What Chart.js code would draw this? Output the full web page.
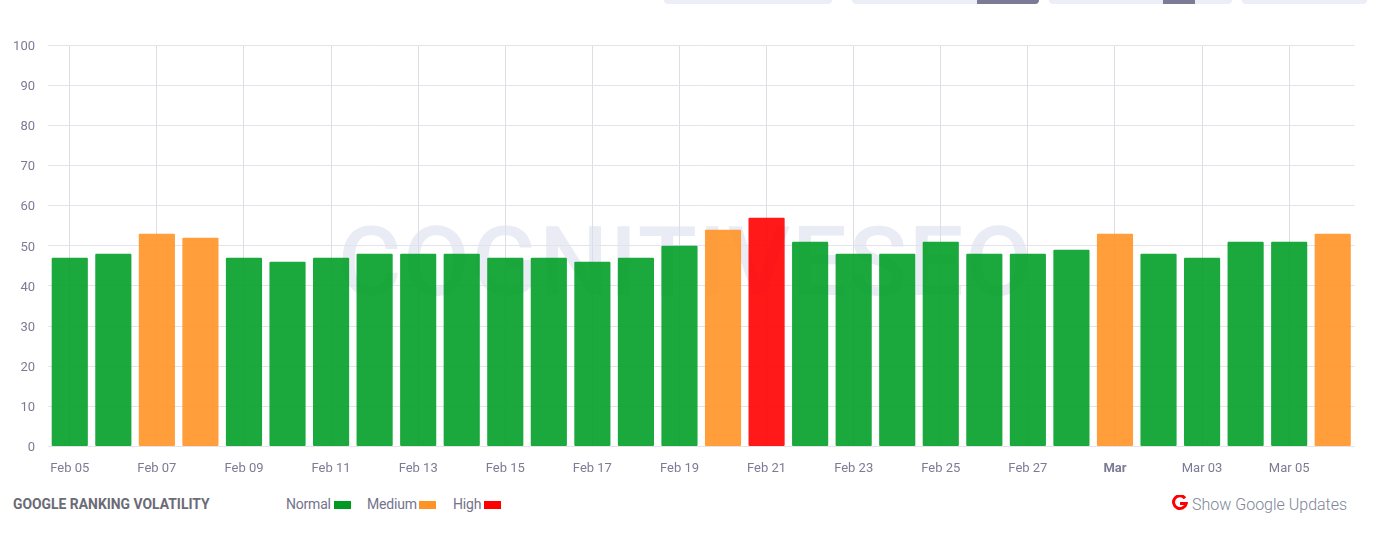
<!DOCTYPE html>
<html>
<head>
<meta charset="utf-8">
<title>Google Ranking Volatility</title>
<script src="https://cdn.jsdelivr.net/npm/chart.js@4"></script>
<style>
    html, body { margin: 0; padding: 0; background: #fff; }
    body { width: 1381px; height: 538px; position: relative; overflow: hidden; font-family: Roboto, sans-serif; }
    #chart-wrap { position: absolute; left: 0; top: 0; width: 1381px; height: 490px; }
    .watermark { position: absolute; left: 338px; top: 205px; font: 500 97px Roboto, sans-serif; color: #e9ecf5; white-space: nowrap; letter-spacing: 1.7px; }
    .pill { position: absolute; top: -4px; height: 8px; background: #eceef6; border-radius: 4px; overflow: hidden; }
    .pill span { position: absolute; top: 0; height: 8px; background: #7c7b96; }
    .title { position: absolute; left: 13px; top: 496px; font-size: 13.9px; font-weight: 700; color: #6b6b76; }
    .legend-label { position: absolute; top: 496px; font-size: 14px; color: #73738c; letter-spacing: -0.2px; }
    .swatch { position: absolute; top: 501px; width: 17px; height: 8px; }
    .updates { position: absolute; left: 1192px; top: 495px; font-size: 16px; font-weight: 300; color: #7e8596; }
    .g-icon { position: absolute; left: 1172px; top: 495px; }
</style>
</head>
<body>
<div class="pill" style="left:664px;width:168px"></div>
<div class="pill" style="left:852px;width:187px"><span style="left:125px;width:62px"></span></div>
<div class="pill" style="left:1049px;width:183px"><span style="left:114px;width:32px"></span></div>
<div class="pill" style="left:1242px;width:125px"></div>

<div class="watermark">COGNITIVESEO</div>
<div id="chart-wrap"><canvas id="volatilityChart"></canvas></div>

<div class="title">GOOGLE RANKING VOLATILITY</div>
<div class="legend-label" style="left:286px">Normal</div>
<div class="swatch" style="left:334px;background:#009a22"></div>
<div class="legend-label" style="left:367px">Medium</div>
<div class="swatch" style="left:419px;background:#ff9326"></div>
<div class="legend-label" style="left:453px">High</div>
<div class="swatch" style="left:484px;background:#ff0000"></div>
<svg class="g-icon" width="16" height="16" viewBox="0 0 16 16">
    <path d="M13 3.2A6.4 6.4 0 1 0 14.2 8.6H8" fill="none" stroke="#f00" stroke-width="3"/>
</svg>
<div class="updates">Show Google Updates</div>

<script>
const days = ["Feb 05", "Feb 06", "Feb 07", "Feb 08", "Feb 09", "Feb 10", "Feb 11", "Feb 12", "Feb 13", "Feb 14",
    "Feb 15", "Feb 16", "Feb 17", "Feb 18", "Feb 19", "Feb 20", "Feb 21", "Feb 22", "Feb 23", "Feb 24",
    "Feb 25", "Feb 26", "Feb 27", "Feb 28", "Mar", "Mar 02", "Mar 03", "Mar 04", "Mar 05", "Mar 06"];
const volatility = [47, 48, 53, 52, 47, 46, 47, 48, 48, 48,
    47, 47, 46, 47, 50, 54, 57, 51, 48, 48,
    51, 48, 48, 49, 53, 48, 47, 51, 51, 53];
const yTicks = [0, 10, 20, 30, 40, 50, 60, 70, 80, 90, 100];

function barColor(value) {
    if (value >= 55) return "rgba(255, 0, 0, 0.9)";
    if (value >= 52) return "rgba(255, 147, 38, 0.9)";
    return "rgba(2, 160, 40, 0.9)";
}

const gridColor = "#e3e3e9";
const tickColor = "#7c7b96";

new Chart(document.getElementById("volatilityChart"), {
    type: "bar",
    data: {
        labels: days,
        datasets: [{
            data: volatility,
            backgroundColor: volatility.map(barColor),
            borderRadius: 1,
            borderSkipped: false,
            categoryPercentage: 1,
            barPercentage: 0.83,
        }],
    },
    options: {
        responsive: true,
        maintainAspectRatio: false,
        animation: false,
        layout: { padding: { top: 45, right: 26.5, left: 0, bottom: 0 } },
        plugins: { legend: { display: false }, tooltip: { enabled: false } },
        scales: {
            x: {
                offset: true,
                border: { display: false },
                grid: {
                    offset: false,
                    drawTicks: false,
                    color: (ctx) => (ctx.index % 2 === 0 ? "#dddde4" : "transparent"),
                },
                ticks: {
                    autoSkip: false,
                    maxRotation: 0,
                    padding: 14,
                    color: tickColor,
                    font: (ctx) => ({
                        family: "Roboto",
                        size: 13,
                        weight: days[ctx.index] === "Mar" ? "bold" : "normal",
                    }),
                    callback: (value, index) => (index % 2 === 0 ? days[index] : ""),
                },
                afterFit: (scale) => { scale.height = 43.5; },
            },
            y: {
                min: 0,
                max: 100,
                border: { display: false },
                grid: { drawTicks: false, color: gridColor },
                afterBuildTicks: (scale) => { scale.ticks = yTicks.map((v) => ({ value: v })); },
                ticks: {
                    padding: 13,
                    color: tickColor,
                    font: { family: "Roboto", size: 13, lineHeight: "3px" },
                    // empty first line nudges the label down a little, like the reference
                    callback: (value) => ["", String(value)],
                },
                afterFit: (scale) => { scale.width = 48; },
            },
        },
    },
});
</script>
</body>
</html>
